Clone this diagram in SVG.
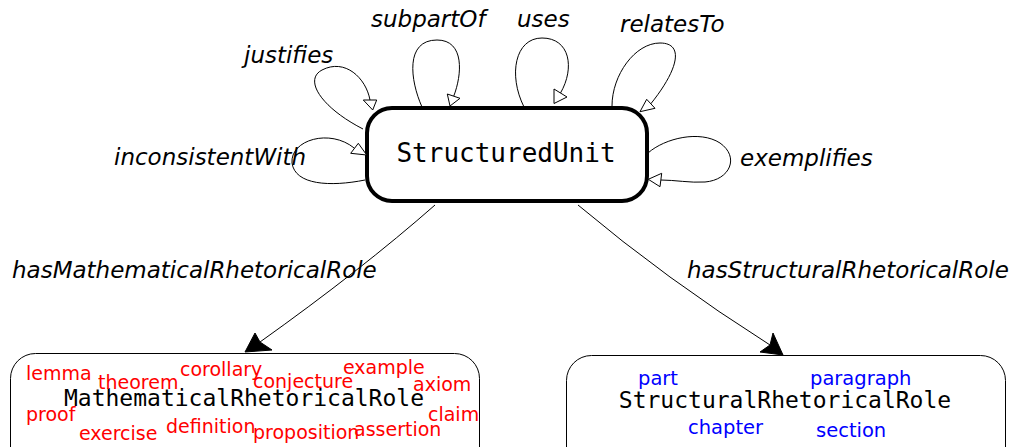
<svg xmlns="http://www.w3.org/2000/svg" width="1011" height="447" viewBox="0 0 1011 447">
  <defs>
    <style>
      .lbl { font-family: "DejaVu Sans", "Liberation Sans", sans-serif; font-style: italic; font-size: 23px; fill: #000; }
      .mono { font-family: "DejaVu Sans Mono", "Liberation Mono", monospace; fill: #000; text-anchor: middle; }
      .red { font-family: "DejaVu Sans", "Liberation Sans", sans-serif; font-size: 19px; fill: #ff0000; }
      .blue { font-family: "DejaVu Sans", "Liberation Sans", sans-serif; font-size: 19.5px; fill: #0000ff; }
      .edge { fill: none; stroke: #000; stroke-width: 1; }
      .open { fill: #fff; stroke: #000; stroke-width: 1; }
      .solid { fill: #000; stroke: #000; stroke-width: 1; }
    </style>
  </defs>

  <rect width="1011" height="447" fill="#fff"/>

  <!-- nodes -->
  <g id="StructuredUnit">
    <rect x="367" y="108" width="280" height="93" rx="25" ry="25" fill="#fff" stroke="#000" stroke-width="4"/>
    <text class="mono" x="506" y="162" font-size="26">StructuredUnit</text>
  </g>

  <g id="MathematicalRhetoricalRole">
    <rect x="10.5" y="353.5" width="469" height="130" rx="25" ry="25" fill="#fff" stroke="#000" stroke-width="1"/>
    <text class="mono" x="244" y="406" font-size="23">MathematicalRhetoricalRole</text>
    <text class="red" x="26" y="380">lemma</text>
    <text class="red" x="98" y="389">theorem</text>
    <text class="red" x="180" y="376">corollary</text>
    <text class="red" x="253" y="388">conjecture</text>
    <text class="red" x="343" y="374">example</text>
    <text class="red" x="413" y="391">axiom</text>
    <text class="red" x="26" y="421">proof</text>
    <text class="red" x="428" y="421">claim</text>
    <text class="red" x="79" y="440">exercise</text>
    <text class="red" x="166" y="433">definition</text>
    <text class="red" x="253" y="439">proposition</text>
    <text class="red" x="354" y="436">assertion</text>
  </g>

  <g id="StructuralRhetoricalRole">
    <rect x="566.5" y="355.5" width="439" height="130" rx="25" ry="25" fill="#fff" stroke="#000" stroke-width="1"/>
    <text class="mono" x="785" y="408" font-size="23">StructuralRhetoricalRole</text>
    <text class="blue" x="638" y="385">part</text>
    <text class="blue" x="810" y="385">paragraph</text>
    <text class="blue" x="688" y="434">chapter</text>
    <text class="blue" x="816" y="437">section</text>
  </g>

  <!-- connectors -->
  <g id="connectors">
    <!-- self loops on StructuredUnit -->
    <path class="edge" d="M363,129 C 322,108 303,80 322,70 C 345,58 366,78 370,100"/>
    <polygon class="open" points="363.3,100 376.7,100 372.7,110"/>

    <path class="edge" d="M365,180 C 330,187 295,185 292,163 C 290,140 330,128 354.5,148.3"/>
    <polygon class="open" points="350.7,153.3 358.3,143.3 366.7,155"/>

    <path class="edge" d="M422,107 C 410,80 405,40 437,40 C 465,40 462,75 453.7,96.2"/>
    <polygon class="open" points="447.3,94 460,98.3 450,106"/>

    <path class="edge" d="M524,107 C 508,75 515,38 542,38 C 570,38 575,68 560.5,93"/>
    <polygon class="open" points="554,89 567,97 554,103.5"/>

    <path class="edge" d="M612,106 C 612,75 635,43 660,43 C 685,43 678,70 650.8,103.8"/>
    <polygon class="open" points="646.7,99.3 655,108.3 640,111.7"/>

    <path class="edge" d="M648,153 C 665,138 700,130 720,143 C 740,157 730,180 705,182 C 690,183 675,180 660.8,180"/>
    <polygon class="open" points="661.7,173.3 660,186.7 648.3,179.3"/>

    <!-- edges to role nodes -->
    <path class="edge" d="M435,205 Q 361,270 260,342"/>
    <polygon class="solid" points="245,352 255,333 260,342 272,350"/>

    <path class="edge" d="M578,205 Q 666,279 770,345"/>
    <polygon class="solid" points="783,355 773,333 770,345 760,352"/>

    <!-- labels -->
    <text class="lbl" x="244" y="63">justifies</text>
    <text class="lbl" x="114" y="165">inconsistentWith</text>
    <text class="lbl" x="371" y="27">subpartOf</text>
    <text class="lbl" x="517" y="27">uses</text>
    <text class="lbl" x="620" y="32">relatesTo</text>
    <text class="lbl" x="740" y="166">exemplifies</text>
    <text class="lbl" x="12" y="278">hasMathematicalRhetoricalRole</text>
    <text class="lbl" x="687" y="278">hasStructuralRhetoricalRole</text>
  </g>
</svg>
